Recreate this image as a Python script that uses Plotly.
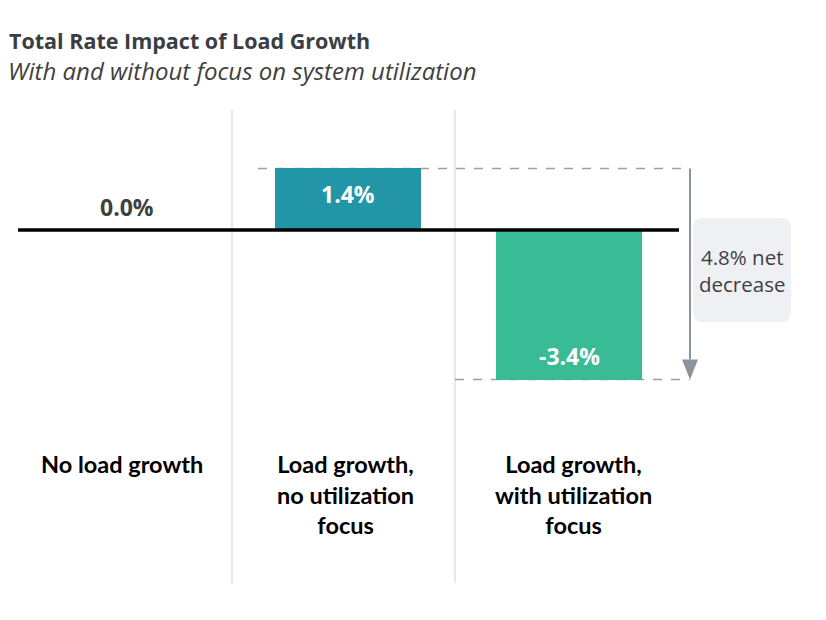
import plotly.graph_objects as go

categories = ["No load growth", "Load growth,<br>no utilization<br>focus", "Load growth,<br>with utilization<br>focus"]
values = [0.0, 1.4, -3.4]
value_labels = ["0.0%", "1.4%", "-3.4%"]
bar_colors = ["rgba(0,0,0,0)", "#2296a7", "#39bb96"]
net_label = "4.8% net<br>decrease"

OFF = 8  # page body margin
W, H = 826 - OFF, 620 - OFF
PX_PER_X = 221.0
X0_PX = 127.0 - OFF
PX_PER_Y = 44.0
Y0_PX = 230.0 - OFF

xr = [-X0_PX / PX_PER_X, (W - X0_PX) / PX_PER_X]
yr = [-(H - Y0_PX) / PX_PER_Y, Y0_PX / PX_PER_Y]

def px2x(p):  # screen px -> data x
    return (p - OFF - X0_PX) / PX_PER_X

def pxp(p):  # screen px -> paper x
    return (p - OFF) / W

def pyp(p):  # screen px -> paper y
    return 1 - (p - OFF) / H

xs = list(range(len(categories)))

fig = go.Figure()
fig.add_trace(go.Bar(
    x=xs, y=values, width=0.66,
    marker=dict(color=bar_colors, line=dict(width=0)),
    hoverinfo="skip", showlegend=False,
))

shapes = []
for p in (232, 455):
    shapes.append(dict(type="line", xref="paper", yref="paper",
                       x0=pxp(p), x1=pxp(p), y0=pyp(110), y1=pyp(583),
                       line=dict(color="#d9d9d9", width=1.2), layer="below"))
shapes.append(dict(type="line", xref="x", yref="y", x0=px2x(18), x1=px2x(679), y0=0, y1=0,
                   line=dict(color="black", width=3.5)))

xa = px2x(690)
top_v = values[1]
bot_v = values[2]
shapes.append(dict(type="line", xref="x", yref="y", x0=px2x(258), x1=xa, y0=top_v, y1=top_v,
                   line=dict(color="#a0a0a0", width=1.5, dash="dash"), layer="below"))
shapes.append(dict(type="line", xref="x", yref="y", x0=px2x(455), x1=xa, y0=bot_v, y1=bot_v,
                   line=dict(color="#a0a0a0", width=1.5, dash="dash"), layer="below"))
head_h = 20 / PX_PER_Y
head_w = 8 / PX_PER_X
shapes.append(dict(type="line", xref="x", yref="y", x0=xa, x1=xa, y0=top_v, y1=bot_v + head_h,
                   line=dict(color="#8c939c", width=2)))
shapes.append(dict(type="path", xref="x", yref="y",
                   path=f"M {xa - head_w},{bot_v + head_h} L {xa + head_w},{bot_v + head_h} L {xa},{bot_v} Z",
                   fillcolor="#8c939c", line=dict(width=0)))

bx0, bx1, by0, by1, r = 693, 791, 218, 322, 10
def P(px, py):
    return f"{pxp(px)},{pyp(py)}"
path = (f"M {P(bx0 + r, by0)} L {P(bx1 - r, by0)} Q {P(bx1, by0)} {P(bx1, by0 + r)} "
        f"L {P(bx1, by1 - r)} Q {P(bx1, by1)} {P(bx1 - r, by1)} "
        f"L {P(bx0 + r, by1)} Q {P(bx0, by1)} {P(bx0, by1 - r)} "
        f"L {P(bx0, by0 + r)} Q {P(bx0, by0)} {P(bx0 + r, by0)} Z")
shapes.append(dict(type="path", xref="paper", yref="paper", path=path,
                   fillcolor="#eef0f4", line=dict(width=0), layer="below"))

annotations = []
annotations.append(dict(x=pxp(7), y=pyp(40), xref="paper", yref="paper", xanchor="left", yanchor="middle",
                        text="<b>Total Rate Impact of Load Growth</b>", showarrow=False,
                        font=dict(family="Open Sans", size=21.5, color="#3a3e44")))
annotations.append(dict(x=pxp(6), y=pyp(71), xref="paper", yref="paper", xanchor="left", yanchor="middle",
                        text="<i>With and without focus on system utilization</i>", showarrow=False,
                        font=dict(family="Open Sans", size=24, color="#404040")))

for i, (v, lab) in enumerate(zip(values, value_labels)):
    if v == 0:
        shift, col = 23, "#404040"
    elif v > 0:
        shift, col = -26, "white"
    else:
        shift, col = 24, "white"
    annotations.append(dict(x=xs[i], y=v, xref="x", yref="y", yshift=shift, xanchor="center",
                            yanchor="middle", text=f"<b>{lab}</b>", showarrow=False,
                            font=dict(family="Open Sans", size=23, color=col)))

label_px = [122, 345, 573]
for i, c in enumerate(categories):
    annotations.append(dict(x=px2x(label_px[i]), y=pyp(448), xref="x", yref="paper", yanchor="top",
                            xanchor="center", text=f"<b>{c}</b>", showarrow=False, align="center",
                            font=dict(family="Lato", size=23.5, color="black")))

annotations.append(dict(x=pxp((bx0 + bx1) / 2), y=pyp((by0 + by1) / 2), xref="paper", yref="paper",
                        xanchor="center", yanchor="middle",
                        text=net_label, showarrow=False, align="center",
                        font=dict(family="Open Sans", size=20.5, color="#404040")))

fig.update_layout(
    width=W, height=H,
    margin=dict(l=0, r=0, t=0, b=0),
    paper_bgcolor="white", plot_bgcolor="white",
    xaxis=dict(range=xr, visible=False, fixedrange=True),
    yaxis=dict(range=yr, visible=False, fixedrange=True),
    shapes=shapes, annotations=annotations,
    bargap=0, showlegend=False,
)
fig.write_html("out.html")
